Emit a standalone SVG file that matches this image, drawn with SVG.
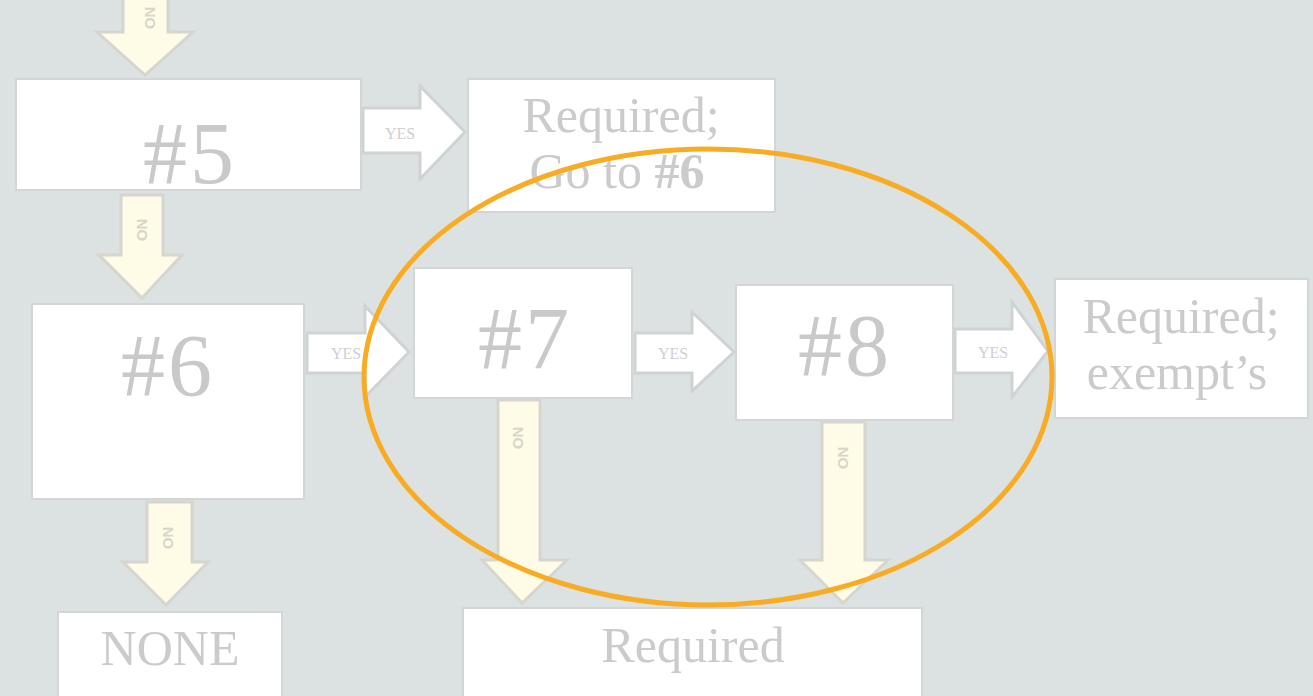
<svg xmlns="http://www.w3.org/2000/svg" width="1313" height="696" viewBox="0 0 1313 696">
<style>
.box{fill:#ffffff;stroke:#d3d6d6;stroke-width:2}
.big{font-family:"Liberation Serif",serif;font-size:88px;fill:#c9c9c9;text-anchor:middle;letter-spacing:3px}
.mid{font-family:"Liberation Serif",serif;font-size:50px;fill:#cbcbcb;text-anchor:middle}
.yesA{fill:#ffffff;stroke:#d0d3d3;stroke-width:3;stroke-linejoin:miter}
.noA{fill:#fefbe6;stroke:#d6d6cf;stroke-width:3;stroke-linejoin:miter}
.lbl{font-family:"Liberation Serif",serif;font-size:16px;fill:#cfcfcf;text-anchor:middle}
.nol{font-family:"Liberation Sans",sans-serif;font-size:15px;font-weight:bold;fill:#d8d6c8;text-anchor:middle}
</style>
<rect width="1313" height="696" fill="#dce1e1"/>
<g id="connectors">
<g id="top-no"><path class="noA" d="M123,-5 L168,-5 L168,32 L193,32 L145,75 L97,32 L123,32 Z"/><text class="nol" transform="translate(145,18) rotate(90)">NO</text></g>
<g id="c5-no"><path class="noA" d="M121,195 L163,195 L163,255 L182,255 L142,298 L99,255 L121,255 Z"/><text class="nol" transform="translate(137,230) rotate(90)">NO</text></g>
<g id="c5-yes"><path class="yesA" d="M363,108 L420,108 L420,86 L465,132 L420,179 L420,153 L363,153 Z"/><text class="lbl" x="400" y="139">YES</text></g>
<g id="c6-yes"><path class="yesA" d="M307,333 L365,333 L365,306 L409,352 L365,397 L365,373 L307,373 Z"/><text class="lbl" x="346" y="359">YES</text></g>
<g id="c6-no"><path class="noA" d="M147,502 L192,502 L192,562 L208,562 L166,605 L123,562 L147,562 Z"/><text class="nol" transform="translate(163,538) rotate(90)">NO</text></g>
<g id="c7-yes"><path class="yesA" d="M635,333 L692,333 L692,312 L734,352 L692,391 L692,373 L635,373 Z"/><text class="lbl" x="673" y="359">YES</text></g>
<g id="c7-no"><path class="noA" d="M498,400 L540,400 L540,560 L567,560 L522,603 L482,560 L498,560 Z"/><text class="nol" transform="translate(513,438) rotate(90)">NO</text></g>
<g id="c8-yes"><path class="yesA" d="M955,329 L1012,329 L1012,302 L1048,351 L1012,397 L1012,373 L955,373 Z"/><text class="lbl" x="993" y="358">YES</text></g>
<g id="c8-no"><path class="noA" d="M822,422 L865,422 L865,560 L888,560 L843,603 L800,560 L822,560 Z"/><text class="nol" transform="translate(838,458) rotate(90)">NO</text></g>
</g>
<g id="n5"><rect class="box" x="16" y="79" width="345" height="111"/><text class="big" x="190" y="183">#5</text></g>
<g id="r6"><rect class="box" x="468" y="79" width="307" height="133"/><text class="mid" x="621" y="132">Required;</text><text class="mid" x="617" y="188">Go to <tspan font-weight="bold">#6</tspan></text></g>
<g id="n6"><rect class="box" x="32" y="304" width="272" height="195"/><text class="big" x="168" y="395">#6</text></g>
<g id="n7"><rect class="box" x="414" y="268" width="218" height="130"/><text class="big" x="525" y="368">#7</text></g>
<g id="n8"><rect class="box" x="736" y="285" width="217" height="135"/><text class="big" x="845" y="375">#8</text></g>
<g id="rex"><rect class="box" x="1055" y="279" width="253" height="139"/><text class="mid" x="1181" y="333">Required;</text><text class="mid" x="1177" y="389">exempt’s</text></g>
<g id="none"><rect class="box" x="58" y="612" width="224" height="90"/><text class="mid" x="170" y="665">NONE</text></g>
<g id="req"><rect class="box" x="463" y="608" width="459" height="95"/><text class="mid" x="693" y="662">Required</text></g>
<ellipse id="highlight" cx="708" cy="377" rx="344" ry="228" fill="none" stroke="#f8ac24" stroke-width="5"/>
</svg>
